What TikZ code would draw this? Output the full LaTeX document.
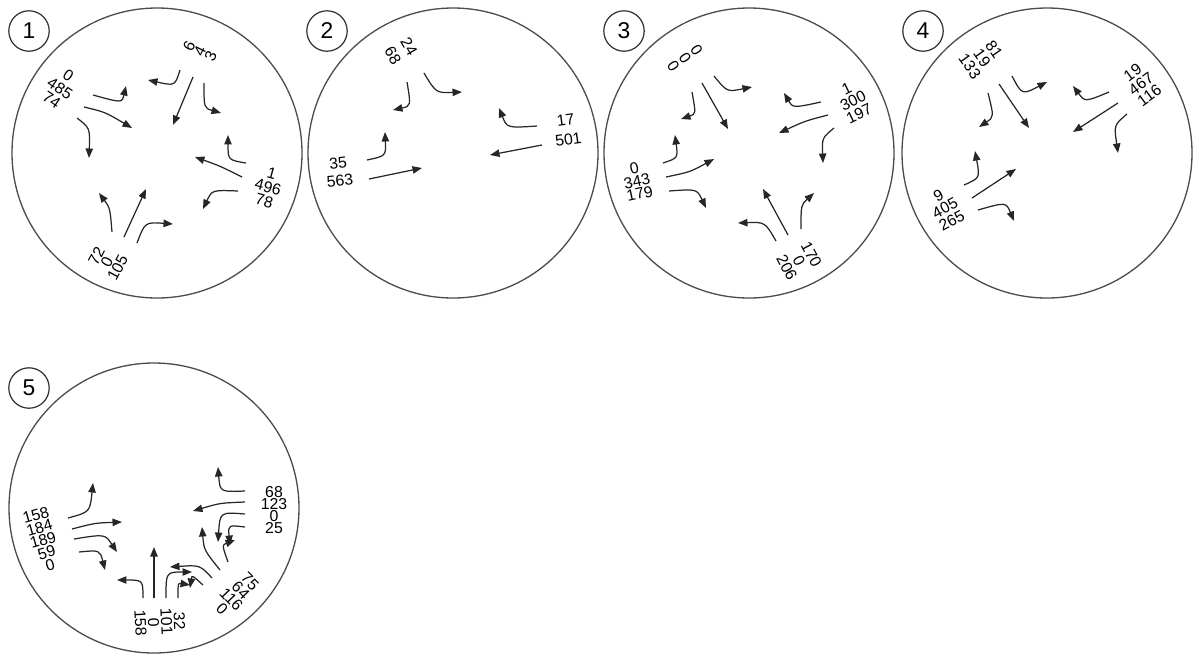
\documentclass[tikz,border=0pt]{standalone}
\usepackage{fontspec}
\setmainfont{Liberation Sans}
\usetikzlibrary{arrows.meta}

\tikzset{
  ring/.style={draw=black!70, line width=0.75pt},
  tagno/.style={circle, draw=black!80, line width=0.7pt, minimum size=23pt, inner sep=0pt, font=\fontsize{13}{13}\selectfont},
  mv/.style={draw=black!85, line width=0.7pt, -{Triangle[length=5.4pt,width=4.2pt]}},
  cnt/.style={align=center, inner sep=0pt, font=\fontsize{9}{#1}\selectfont},
  cnt/.default=8
}

\begin{document}
\begin{tikzpicture}[x=0.02cm, y=-0.02cm]
\useasboundingbox (0,0) rectangle (1193,657);

% roundabouts
\foreach \cx/\cy in {157/153, 453/153, 749/153, 1047/153, 154/508}
  \draw[ring] (\cx,\cy) circle[radius=145];

\node[tagno] (tag1) at (29,31) {1};
\node[tagno] (tag2) at (327,31) {2};
\node[tagno] (tag3) at (624,31) {3};
\node[tagno] (tag4) at (923,31) {4};
\node[tagno] (tag5) at (29,388) {5};

% ---- 1 ----
\node[cnt=6.8, rotate=64] (n1top) at (200,51) {6\\4\\3};
\node[cnt=8.4, rotate=-34] (n1left) at (60,88) {0\\485\\74};
\node[cnt=8.2, rotate=-15] (n1right) at (268,187) {1\\496\\78};
\node[cnt=6.8, rotate=62] (n1bot) at (107,262) {72\\0\\105};
\draw[mv] (180,70) .. controls (175,86) .. (148,80);
\draw[mv] (193,77) -- (173,125);
\draw[mv] (204,83) .. controls (204,108) .. (221,113);
\draw[mv] (93,95) .. controls (122,103) .. (126,86);
\draw[mv] (84,107) .. controls (105,112) .. (132,128);
\draw[mv] (77,118) .. controls (90,128) .. (89,158);
\draw[mv] (246,163) .. controls (228,160) .. (228,135);
\draw[mv] (242,177) .. controls (220,166) .. (195,157);
\draw[mv] (238,191) .. controls (212,190) .. (203,209);
\draw[mv] (112,232) .. controls (110,208) .. (99,193);
\draw[mv] (124,237) -- (146,189);
\draw[mv] (137,243) .. controls (145,222) .. (173,224);

% ---- 2 ----
\node[cnt=10.6, rotate=-60] (n2top) at (401,51) {24\\68};
\node[cnt=11.3, rotate=8] (n2right) at (567,130) {17\\501};
\node[cnt=10.2, rotate=6] (n2left) at (339,172) {35\\563};
\draw[mv] (407,82) .. controls (411,106) .. (393,110);
\draw[mv] (424,73) .. controls (436,93) .. (462,92);
\draw[mv] (537,126) .. controls (507,128) .. (499,108);
\draw[mv] (542,145) -- (490,155);
\draw[mv] (367,160) .. controls (386,156) .. (385,132);
\draw[mv] (369,179) -- (422,168);

% ---- 3 ----
\node[cnt=8, rotate=-56] (n3top) at (685,58) {0\\0\\0};
\node[cnt=8, rotate=26] (n3right) at (853,101) {1\\300\\197};
\node[cnt=7.4, rotate=12] (n3left) at (637,181) {0\\343\\179};
\node[cnt=7.9, rotate=-62] (n3bot) at (799,261) {170\\0\\206};
\draw[mv] (692,92) .. controls (696,114) .. (681,119);
\draw[mv] (702,83) -- (728,129);
\draw[mv] (714,76) .. controls (727,92) .. (752,87);
\draw[mv] (821,102) .. controls (793,108) .. (784,93);
\draw[mv] (828,115) .. controls (805,121) .. (779,133);
\draw[mv] (834,128) .. controls (822,138) .. (823,163);
\draw[mv] (663,163) .. controls (678,158) .. (675,135);
\draw[mv] (666,177) .. controls (690,172) .. (714,159);
\draw[mv] (669,191) .. controls (697,189) .. (706,208);
\draw[mv] (776,241) .. controls (765,222) .. (738,223);
\draw[mv] (788,235) -- (763,189);
\draw[mv] (801,229) .. controls (801,205) .. (814,193);

% ---- 4 ----
\node[cnt=8.4, rotate=-55] (n4top) at (982,58) {81\\19\\133};
\node[cnt=8.1, rotate=36] (n4right) at (1141,84) {19\\467\\116};
\node[cnt=8, rotate=28] (n4left) at (945,208) {9\\405\\265};
\draw[mv] (988,93) .. controls (994,117) .. (979,127);
\draw[mv] (999,84) -- (1029,128);
\draw[mv] (1012,76) .. controls (1022,95) .. (1047,82);
\draw[mv] (1109,92) .. controls (1085,102) .. (1073,86);
\draw[mv] (1118,103) -- (1073,132);
\draw[mv] (1127,114) .. controls (1114,125) .. (1118,153);
\draw[mv] (964,185) .. controls (980,178) .. (975,151);
\draw[mv] (972,198) -- (1016,169);
\draw[mv] (978,210) .. controls (1006,202) .. (1014,221);

% ---- 5 ----
\node[cnt=5.1, rotate=16] (n5left) at (43,540) {158\\184\\189\\59\\0};
\node[cnt=6.8] (n5right) at (274,510) {68\\123\\0\\25};
\node[cnt=6.2, rotate=-46] (n5botr) at (236,595) {75\\64\\116\\0};
\node[cnt=5.9, rotate=-87] (n5bot) at (160,622) {32\\101\\0\\158};
\draw[mv] (68,518) .. controls (90,512) .. (93,483);
\draw[mv] (72,529) .. controls (95,523) .. (122,522);
\draw[mv] (74,539) .. controls (105,534) .. (117,552);
\draw[mv] (79,552) .. controls (100,550) .. (105,570);
\draw[mv] (245,491) .. controls (220,492) .. (218,467);
\draw[mv] (245,502) .. controls (220,503) .. (193,511);
\draw[mv] (245,514) .. controls (220,512) .. (218,542);
\draw[mv] (245,527) .. controls (228,525) .. (230,545);
\draw[mv] (228,562) .. controls (222,545) .. (235,540);
\draw[mv] (220,570) .. controls (204,550) .. (202,527);
\draw[mv] (212,578) .. controls (200,565) .. (170,567);
\draw[mv] (203,585) .. controls (192,575) .. (190,588);
\draw[mv] (143,598) .. controls (143,580) .. (117,580);
\draw[mv] (154,598) -- (154,547);
\draw[mv] (166,598) .. controls (166,572) .. (192,572);
\draw[mv] (178,598) .. controls (178,583) .. (190,585);
\end{tikzpicture}
\end{document}
